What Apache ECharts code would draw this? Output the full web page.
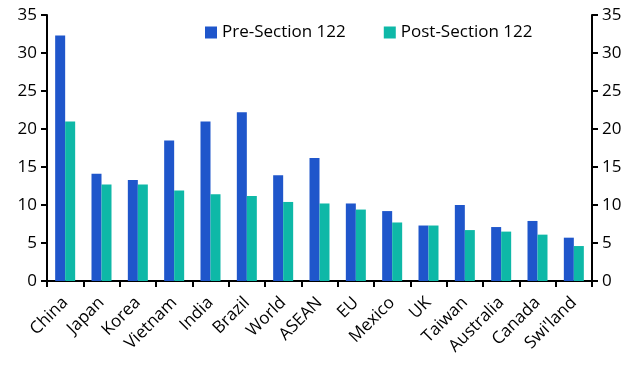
<!DOCTYPE html>
<html>
<head>
<meta charset="utf-8">
<script src="https://cdn.jsdelivr.net/npm/echarts@6/dist/echarts.min.js"></script>
<style>
  html, body { margin: 0; padding: 0; background: #fff; }
  #chart { width: 642px; height: 378px; }
</style>
</head>
<body>
<div id="chart"></div>
<script>
// data
var categories = ['China', 'Japan', 'Korea', 'Vietnam', 'India', 'Brazil', 'World', 'ASEAN', 'EU', 'Mexico', 'UK', 'Taiwan', 'Australia', 'Canada', "Swi'land"];
var preSection = [32.3, 14.1, 13.3, 18.5, 21.0, 22.2, 13.9, 16.2, 10.2, 9.2, 7.3, 10.0, 7.1, 7.9, 5.7];
var postSection = [21.0, 12.7, 12.7, 11.9, 11.4, 11.2, 10.4, 10.2, 9.4, 7.7, 7.3, 6.7, 6.5, 6.1, 4.6];
var seriesNames = ['Pre-Section 122', 'Post-Section 122'];

var fontFamily = 'Open Sans, Liberation Sans, sans-serif';
var axisLine = { show: true, lineStyle: { color: '#000', width: 2 } };

var myChart = echarts.init(document.getElementById('chart'));
var option = {
    animation: false,
    textStyle: { fontFamily: fontFamily },
    grid: { left: 47, right: 50, top: 15, bottom: 97 },
    legend: {
        data: seriesNames,
        top: 19,
        left: 200,
        itemWidth: 12,
        itemHeight: 12,
        itemGap: 38,
        icon: 'rect',
        textStyle: { fontSize: 17, color: '#000', fontFamily: fontFamily }
    },
    xAxis: {
        type: 'category',
        data: categories,
        axisLine: axisLine,
        axisTick: { show: true, inside: false, length: 6, lineStyle: { color: '#000', width: 2 } },
        axisLabel: {
            rotate: 45,
            interval: 0,
            fontSize: 17,
            color: '#000',
            margin: 19
        }
    },
    yAxis: [
        {
            type: 'value',
            min: 0, max: 35, interval: 5,
            position: 'left',
            axisLine: axisLine,
            axisTick: { show: true, length: 6, lineStyle: { color: '#000', width: 2 } },
            splitLine: { show: false },
            axisLabel: { fontSize: 17, color: '#000', margin: 10 }
        },
        {
            type: 'value',
            min: 0, max: 35, interval: 5,
            position: 'right',
            axisLine: axisLine,
            axisTick: { show: true, length: 6, lineStyle: { color: '#000', width: 2 } },
            splitLine: { show: false },
            axisLabel: { fontSize: 17, color: '#000', margin: 10 }
        }
    ],
    series: [
        {
            name: seriesNames[0],
            type: 'bar',
            data: preSection,
            barWidth: 10,
            barGap: '0%',
            itemStyle: { color: '#1F56CB' }
        },
        {
            name: seriesNames[1],
            type: 'bar',
            data: postSection,
            barWidth: 10,
            itemStyle: { color: '#0EB8A7' }
        }
    ]
};
myChart.setOption(option);
</script>
</body>
</html>
